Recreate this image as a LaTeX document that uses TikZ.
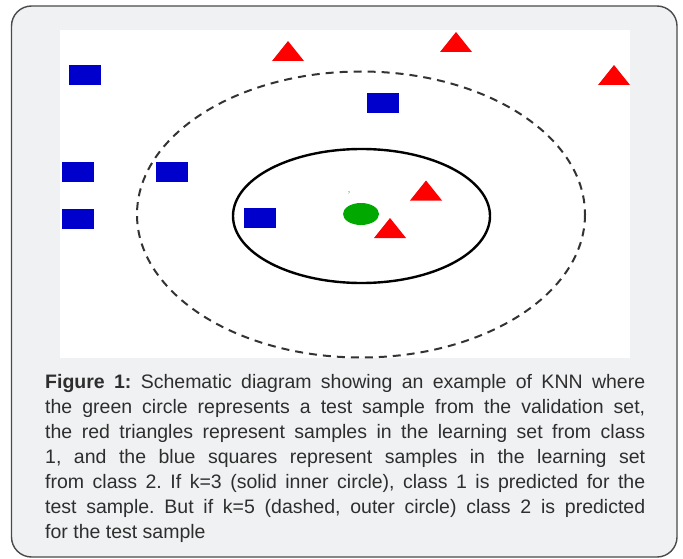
\documentclass[tikz,border=0pt]{standalone}
\usepackage{fontspec}
\setmainfont{Liberation Sans}
\usetikzlibrary{shapes.geometric}
\definecolor{panelbg}{HTML}{F0F1F3}
\definecolor{panelline}{HTML}{4A4A4A}
\definecolor{capgray}{HTML}{2E2E2E}
\definecolor{sqblue}{HTML}{0000CC}
\definecolor{tired}{HTML}{FF0000}
\definecolor{testgreen}{HTML}{00A800}
\tikzset{
  sq/.style={fill=sqblue, draw=none, minimum width=32pt, minimum height=20pt, inner sep=0pt},
  tri/.pic={\fill[tired] (-16,10) -- (0,-10) -- (16,10) -- cycle;},
  kinner/.style={draw=black, line width=2.4pt},
  kouter/.style={draw=black!80, line width=2pt, dash pattern=on 8pt off 6pt},
}
\begin{document}
\begin{tikzpicture}[x=1pt,y=-1pt]
  \useasboundingbox (0,0) rectangle (683,559);
  % caption panel
  \draw[panelline, fill=panelbg, line width=1.4pt, rounded corners=20pt] (11.5,6) rectangle (677,557);
  % plot area
  \fill[white] (60,30) rectangle (630,358);
  % neighbourhoods
  \draw[kouter] (361,214.5) ellipse [x radius=224, y radius=143];
  \draw[kinner] (361.5,216) ellipse [x radius=128.5, y radius=67];
  % class 2 samples
  \node[sq] (s1) at (85,75) {};
  \node[sq] (s2) at (383,103) {};
  \node[sq] (s3) at (78,172.5) {};
  \node[sq] (s4) at (172,172.5) {};
  \node[sq] (s5) at (78,219) {};
  \node[sq] (s6) at (259.5,218) {};
  % class 1 samples
  \pic at (288,51) {tri};
  \pic at (456,42) {tri};
  \pic at (614,75) {tri};
  \pic at (426,190.5) {tri};
  \pic at (390,228) {tri};
  % test sample
  \node[ellipse, fill=testgreen, minimum width=36pt, minimum height=22pt, inner sep=0pt] (t) at (361,214) {};
  \node[text=testgreen, font=\fontsize{4}{4}\selectfont, inner sep=0pt] (q) at (349,193) {?};
  % caption
  \node[anchor=north west, inner sep=0pt, text width=600pt, align=justify, text=capgray,
        font=\fontsize{19.5}{25}\selectfont\frenchspacing] (cap) at (45,374)
  {\textbf{Figure 1:} Schematic diagram showing an example of KNN where\linebreak
   the green circle represents a test sample from the validation set,\linebreak
   the red triangles represent samples in the learning set from class\linebreak
   1, and the blue squares represent samples in the learning set\linebreak
   from class 2. If k=3 (solid inner circle), class 1 is predicted for the\linebreak
   test sample. But if k=5 (dashed, outer circle) class 2 is predicted\linebreak
   for the test sample};
\end{tikzpicture}
\end{document}
